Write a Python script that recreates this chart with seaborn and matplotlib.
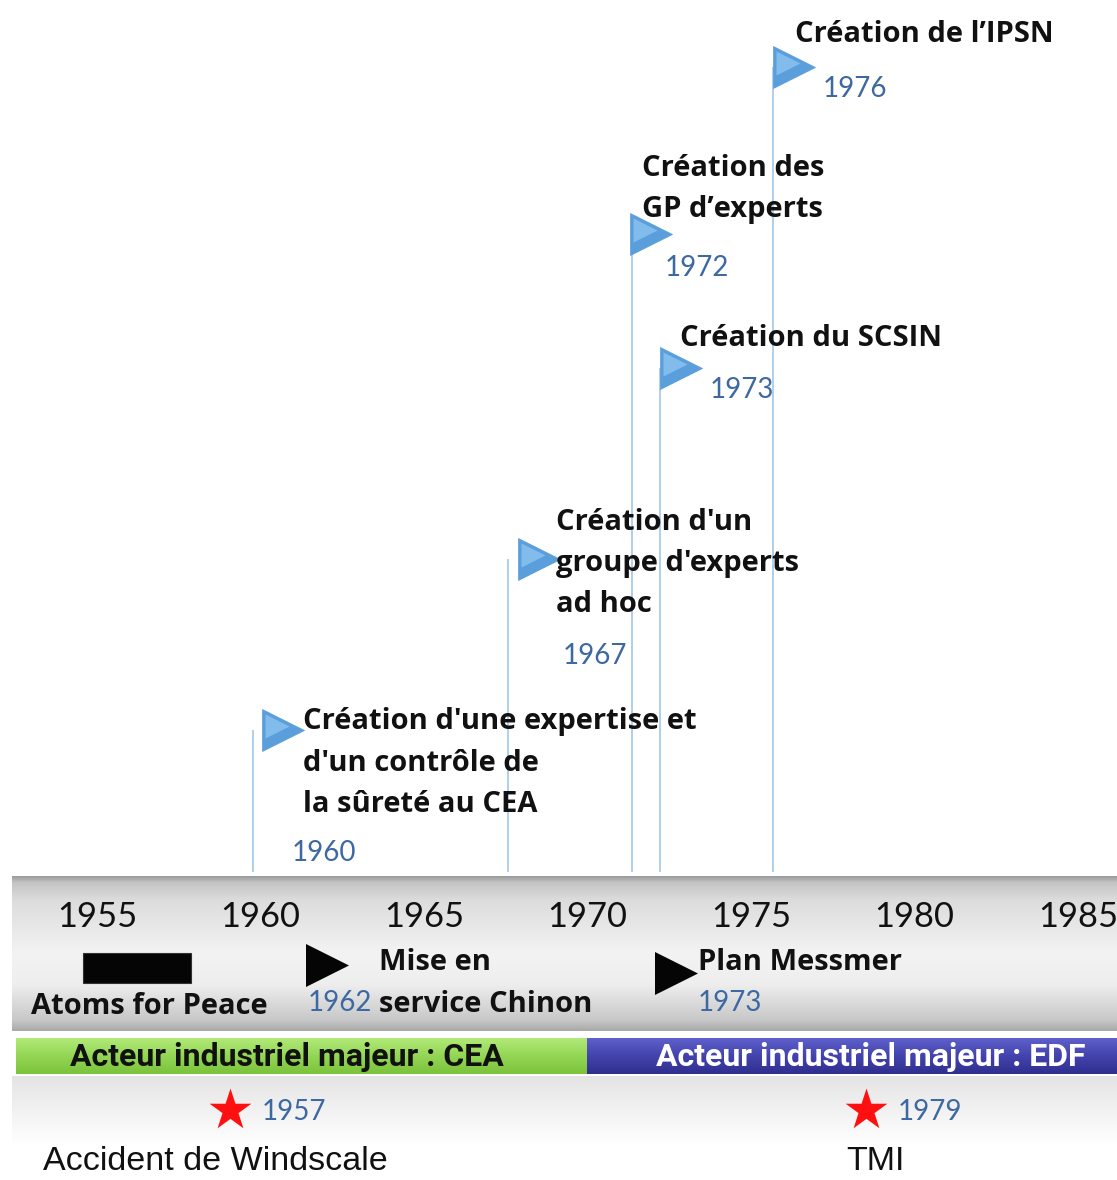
import numpy as np
import matplotlib
matplotlib.use("Agg")
import matplotlib.pyplot as plt
import seaborn as sns
import pandas as pd
from matplotlib.colors import LinearSegmentedColormap

# ---------------- data ----------------
tick_years = [1955, 1960, 1965, 1970, 1975, 1980, 1985]

flag_labels = ["Création d'une expertise et\nd'un contrôle de\nla sûreté au CEA",
               "Création d'un\ngroupe d'experts\nad hoc",
               "Création des\nGP d’experts",
               "Création du SCSIN",
               "Création de l’IPSN"]
flag_years = ["1960", "1967", "1972", "1973", "1976"]
flag_pos = [1959.77, 1967.57, 1971.36, 1972.21, 1975.67]   # pole position on the time scale

atoms_label = "Atoms for Peace"
atoms_start, atoms_end = 1954.57, 1957.87
band_labels = ["Mise en\nservice Chinon", "Plan Messmer"]
band_years = ["1962", "1973"]
band_pos = [1961.36, 1972.06]

period_labels = ["Acteur industriel majeur : CEA", "Acteur industriel majeur : EDF"]
period_start = [1952.52, 1969.98]
period_end = [1969.98, 1986.2]

accident_labels = ["Accident de Windscale", "TMI"]
accident_years = ["1957", "1979"]
accident_pos = [1959.06, 1978.51]

# ---------------- layout ----------------
PX = 1 / 32.7              # years per pixel
X0 = 1952.03
X1 = X0 + 1117 * PX
W, H = 1117, 1180
DY = 3                     # small vertical text nudge

flag_tri_dx = [9, 10, -2, 0, 0]
flag_tri_y = [730, 559, 234, 368, 67]
flag_text_dx = [50, 48, 10, 20, 22]
flag_text_y = [719, 519, 165, 336, 31]
flag_year_dx = [39, 55, 33, 50, 50]
flag_year_y = [850, 653, 265, 387, 86]
LINE = 41.5

band_tri_y = [965, 973]
band_text_dx = [74, 43]
band_text_y = [959, 959]
band_year_dx = [3, 43]

sns.set_theme(style="white")
plt.rcParams["font.family"] = ["Open Sans", "DejaVu Sans"]

BOLD = dict(family=["Open Sans", "DejaVu Sans"], fontweight="bold")
REG = dict(family=["Lato", "DejaVu Sans"])
FS_B = 21

fig = plt.figure(figsize=(W / 100, H / 100), dpi=100)
ax = fig.add_axes([0, 0, 1, 1])
ax.set_xlim(X0, X1)
ax.set_ylim(H, 0)
ax.axis("off")

BLUE_TXT = "#3d68a2"
POLE = "#a8cbea"


def vgrad(x0, x1, ytop, ybot, stops, z):
    cmap = LinearSegmentedColormap.from_list("g", stops)
    g = np.linspace(0, 1, 256).reshape(-1, 1)
    ax.imshow(g, cmap=cmap, extent=(x0, x1, ybot, ytop), aspect="auto",
              origin="upper", zorder=z, interpolation="bilinear")


# ---- gray timeline band ----
vgrad(X0 + 12 * PX, X1, 876, 1031,
      [(0, "#9a9a9a"), (0.04, "#c4c4c4"), (0.15, "#dcdcdc"), (0.5, "#f3f3f3"),
       (0.7, "#eeeeee"), (0.93, "#c8c8c8"), (1, "#a9a9a9")], 0)
# faint shade under period bars
vgrad(X0 + 12 * PX, X1, 1076, 1145,
      [(0, "#e4e4e4"), (0.5, "#f2f2f2"), (1, "#ffffff")], 0)

# ---- poles ----
ax.vlines(flag_pos, flag_tri_y, 872, color=POLE, lw=1.3, zorder=1)

# ---- flags ----
flags = pd.DataFrame({
    "x": [p + (dx + 21) * PX for p, dx in zip(flag_pos, flag_tri_dx)],
    "y": flag_tri_y,
})
sns.scatterplot(data=flags, x="x", y="y", marker=">", s=(42 / 1.389) ** 2,
                color="#5a9edb", edgecolor="#5a9edb", linewidth=0.5,
                legend=False, zorder=3, ax=ax)
hl = flags.assign(x=flags["x"] - 6 * PX, y=flags["y"] - 4)
sns.scatterplot(data=hl, x="x", y="y", marker=">", s=(24 / 1.389) ** 2,
                color="#86c0f0", linewidth=0, alpha=0.9, legend=False,
                zorder=4, ax=ax)

for p, lab, yr, tdx, ty, ydx, yy in zip(flag_pos, flag_labels, flag_years,
                                       flag_text_dx, flag_text_y,
                                       flag_year_dx, flag_year_y):
    for i, line in enumerate(lab.split("\n")):
        ax.text(p + tdx * PX, ty + DY + i * LINE, line, ha="left", va="center",
                fontsize=FS_B, color="#111111", zorder=5, **BOLD)
    ax.text(p + ydx * PX, yy + DY, yr, ha="left", va="center", fontsize=20,
            color=BLUE_TXT, zorder=5, **REG)

# ---- ticks ----
for t in tick_years:
    ax.text(t, 914 + DY, str(t), ha="center", va="center", fontsize=24.8,
            color="#111111", zorder=5, **REG)

# ---- band events ----
ax.barh(y=968, width=atoms_end - atoms_start, left=atoms_start, height=30,
        color="#050505", edgecolor="#333333", linewidth=0.8, zorder=3)
ax.text((atoms_start + atoms_end) / 2 + 12 * PX, 1003 + DY, atoms_label,
        ha="center", va="center", fontsize=FS_B, color="#111111", zorder=5,
        **BOLD)

bt = pd.DataFrame({"x": [p + 21.5 * PX for p in band_pos], "y": band_tri_y})
sns.scatterplot(data=bt, x="x", y="y", marker=">", s=(43 / 1.389) ** 2,
                color="#050505", linewidth=0, legend=False, zorder=3, ax=ax)
for p, lab, yr, tdx, ty, ydx in zip(band_pos, band_labels, band_years,
                                    band_text_dx, band_text_y, band_year_dx):
    for i, line in enumerate(lab.split("\n")):
        ax.text(p + tdx * PX, ty + DY + i * 42, line, ha="left", va="center",
                fontsize=FS_B, color="#111111", zorder=5, **BOLD)
    ax.text(p + ydx * PX, 1000 + DY, yr, ha="left", va="center", fontsize=20,
            color=BLUE_TXT, zorder=5, **REG)

# ---- industrial periods ----
period_stops = [[(0, "#b2ea78"), (0.5, "#93d655"), (1, "#7cc23a")],
                [(0, "#6060cc"), (0.5, "#4343ad"), (1, "#2f2f8f")]]
period_txt = ["#111111", "#ffffff"]
period_dx = [-15, 19]
for s, e, lab, st, tc, dx in zip(period_start, period_end, period_labels,
                                 period_stops, period_txt, period_dx):
    vgrad(s, e, 1038, 1074, st, 2)
    ax.text((s + e) / 2 + dx * PX, 1057, lab, ha="center", va="center",
            fontsize=23, fontweight="bold", color=tc, zorder=5,
            family=["Roboto", "DejaVu Sans"])

# ---- accidents ----
acc = pd.DataFrame({"x": accident_pos, "y": [1110, 1110]})
sns.scatterplot(data=acc, x="x", y="y", marker="*", s=1000, color="#ff1010",
                linewidth=0, legend=False, zorder=3, ax=ax)
for p, lab, yr, dx in zip(accident_pos, accident_labels, accident_years, [-15, 10]):
    ax.text(p + 32 * PX, 1109 + DY, yr, ha="left", va="center", fontsize=20,
            color=BLUE_TXT, zorder=5, **REG)
    ax.text(p + dx * PX, 1162, lab, ha="center", va="center", fontsize=24.5,
            color="#111111", zorder=5,
            family=["Liberation Sans", "DejaVu Sans"])

ax.set_xlabel("")
ax.set_ylabel("")
fig.savefig("out.png", dpi=100)
